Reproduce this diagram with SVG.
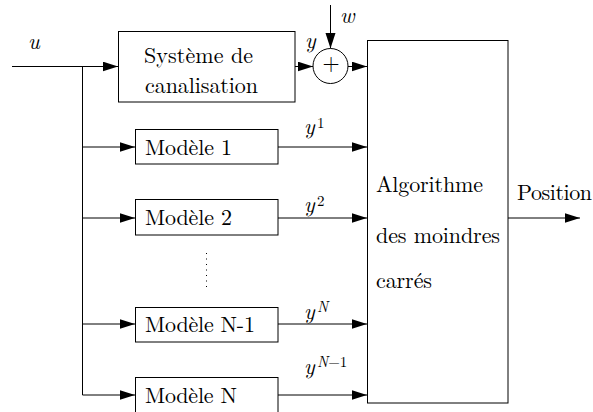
<svg xmlns="http://www.w3.org/2000/svg" width="593" height="412" viewBox="0 0 593 412">
<style>
.box{fill:#fff;stroke:#000;stroke-width:1}
.ln{fill:none;stroke:#000;stroke-width:1}
.arr{marker-end:url(#ah)}
.t,.m,.s{font-family:'Latin Modern Roman','CMU Serif','DejaVu Serif','Liberation Serif','Noto Serif','Nimbus Roman','FreeSerif','Tinos',Georgia,serif;fill:#000}
.t{font-size:22px}
.m{font-style:italic;font-size:22px}
.s{font-size:15px}
.i{font-style:italic}
.dots{fill:none;stroke:#000;stroke-width:1;stroke-dasharray:1 4.5}
</style>
<defs>
<marker id="ah" markerUnits="userSpaceOnUse" markerWidth="16" markerHeight="11" refX="15.5" refY="5" orient="auto">
<path d="M0,0 L15.5,5 L0,10 Z" fill="#000"/>
</marker>
</defs>
<rect width="593" height="412" fill="#fff"/>
<g id="connectors">
<path class="ln arr" d="M12,66.5 H118"/>
<path class="ln" d="M82.5,66.5 V395"/>
<path class="ln arr" d="M82.5,147 H135"/>
<path class="ln arr" d="M82.5,218 H135"/>
<path class="ln arr" d="M82.5,324 H135"/>
<path class="ln arr" d="M82.5,395 H135"/>
<path class="ln arr" d="M295,66.5 H313"/>
<path class="ln arr" d="M330.5,5 V48.5"/>
<path class="ln arr" d="M348,66.5 H367"/>
<path class="ln arr" d="M278,147 H367"/>
<path class="ln arr" d="M278,218 H367"/>
<path class="ln arr" d="M278,324 H367"/>
<path class="ln arr" d="M278,395 H367"/>
<path class="ln arr" d="M508,218 H580"/>
<path class="dots" d="M206.5,253 V289"/>
<text class="m" x="28" y="49">u</text>
<text class="m" x="340" y="23">w</text>
<text class="m" x="305" y="48">y</text>
<text class="m" x="304" y="134">y</text><text class="s" x="317" y="128">1</text>
<text class="m" x="304" y="212">y</text><text class="s" x="317" y="206">2</text>
<text class="m" x="304" y="319">y</text><text class="s i" x="317" y="312">N</text>
<text class="m" x="304" y="374">y</text><text class="s" x="317" y="367"><tspan class="i">N</tspan>−1</text>
<text class="t" x="517" y="200" textLength="75">Position</text>
</g>
<g id="systeme">
<rect class="box" x="118.5" y="31.5" width="176.5" height="70.5"/>
<text class="t" x="144" y="63" textLength="109">Système de</text>
<text class="t" x="145" y="93" textLength="113">canalisation</text>
</g>
<g id="sommateur">
<circle class="box" cx="330.5" cy="66" r="17.5"/>
<text class="t" x="331" y="70" text-anchor="middle">+</text>
</g>
<g id="algorithme">
<rect class="box" x="367.5" y="40.5" width="140.5" height="362.5"/>
<text class="t" x="376" y="192" textLength="107">Algorithme</text>
<text class="t" x="376" y="243" textLength="124">des moindres</text>
<text class="t" x="376" y="288" textLength="56">carrés</text>
</g>
<g id="modele1">
<rect class="box" x="135.5" y="129.5" width="142.5" height="34.5"/>
<text class="t" x="145" y="155" textLength="87">Modèle 1</text>
</g>
<g id="modele2">
<rect class="box" x="135.5" y="199.5" width="142.5" height="35.5"/>
<text class="t" x="145" y="225" textLength="87">Modèle 2</text>
</g>
<g id="modeleN1">
<rect class="box" x="135.5" y="307.5" width="142.5" height="34.5"/>
<text class="t" x="145" y="332" textLength="110">Modèle N-1</text>
</g>
<g id="modeleN">
<rect class="box" x="135.5" y="377.5" width="142.5" height="35"/>
<text class="t" x="145" y="403" textLength="92">Modèle N</text>
</g>
</svg>
